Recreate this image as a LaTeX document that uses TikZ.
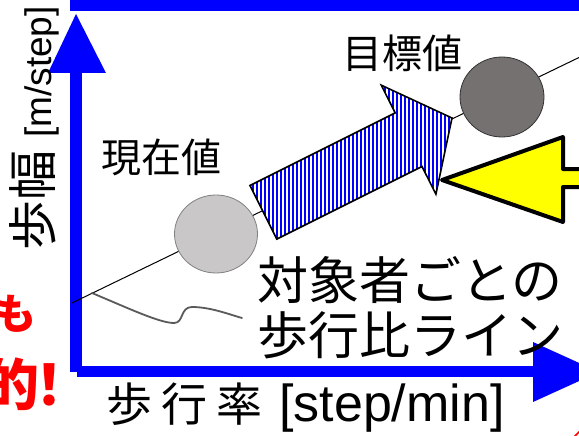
\documentclass[tikz,border=0pt]{standalone}
\usepackage{fontspec}
\setmainfont{Liberation Sans}
\newfontfamily\cjk{Noto Sans CJK JP}
\usetikzlibrary{shapes.geometric}
\definecolor{axisblue}{RGB}{0,0,255}
\definecolor{arrowyellow}{RGB}{255,255,0}
\definecolor{lightdot}{RGB}{201,199,199}
\definecolor{lightdotedge}{RGB}{128,128,128}
\definecolor{darkdot}{RGB}{118,113,113}
\definecolor{darkdotedge}{RGB}{50,50,50}
\definecolor{curvegrey}{RGB}{90,90,90}
\definecolor{alertred}{RGB}{255,0,0}
\tikzset{
  axisfill/.style={fill=axisblue},
  dotnode/.style={ellipse, inner sep=0pt, line width=0.8pt},
  jplabel/.style={inner sep=0pt, anchor=base west},
  redlabel/.style={inner sep=0pt, anchor=base east, text=alertred},
}
\begin{document}
\begin{tikzpicture}[x=1pt,y=-1pt]
\useasboundingbox (0,0) rectangle (579,436);
\clip (0,0) rectangle (579,436);
\fill[white] (0,0) rectangle (579,436);

% top blue bar
\fill[axisfill] (70,0) rectangle (579,11);
% vertical axis arrow
\fill[axisfill] (70,73) rectangle (82,372);
\fill[axisfill] (48,73) -- (76,14) -- (106,73) -- cycle;
% horizontal axis arrow
\fill[axisfill] (77,366) rectangle (533,377);
\fill[axisfill] (533,342) -- (599,372) -- (533,402) -- cycle;

% ratio line
\coordinate (l0) at (72,303);
\coordinate (l1) at (580,57);
\draw[black, line width=1pt] (l0) -- (l1);

% leader curve
\coordinate (c0) at (92,293);
\coordinate (c1) at (242,318);
\draw[curvegrey, line width=1.8pt, line cap=round]
  (c0) .. controls (130,309) and (160,323) .. (174,323)
       .. controls (184,323) and (180,307) .. (192,307)
       .. controls (210,307) and (228,314) .. (c1);

% dots
\node[dotnode, draw=lightdotedge, fill=lightdot, minimum width=83pt, minimum height=78pt] (cur) at (216,234) {};
\node[dotnode, draw=darkdotedge, fill=darkdot, minimum width=84pt, minimum height=80pt] (tgt) at (502,97) {};

% striped arrow
\coordinate (a1) at (250,185.5);
\coordinate (a2) at (395.2,112.9);
\coordinate (a3) at (381.3,85.2);
\coordinate (a4) at (452,118);
\coordinate (a5) at (435.9,194.2);
\coordinate (a6) at (422,166.5);
\coordinate (a7) at (276.8,239.1);
\begin{scope}
  \clip (a1) -- (a2) -- (a3) -- (a4) -- (a5) -- (a6) -- (a7) -- cycle;
  \fill[white] (240,80) rectangle (460,245);
  \foreach \x in {248,252,...,456} \fill[axisblue] (\x,80) rectangle (\x+2,245);
\end{scope}
\draw[black, line width=1.6pt, line join=miter] (a1) -- (a2) -- (a3) -- (a4) -- (a5) -- (a6) -- (a7) -- cycle;

% yellow arrow
\draw[black, fill=arrowyellow, line width=4pt, line join=round]
  (442,180) -- (563,137) -- (563,169) -- (600,169) -- (600,187) -- (563,187) -- (563,222) -- cycle;

% labels
\node[jplabel, font=\cjk\fontsize{40}{48}\selectfont] (curlbl) at (101,172) {現在値};
\node[jplabel, font=\cjk\fontsize{40}{48}\selectfont] (tgtlbl) at (342,69) {目標値};
\node[jplabel, font=\cjk\fontsize{51}{55}\selectfont] (t1) at (257,299) {対象者ごとの};
\node[jplabel, font=\cjk\fontsize{51}{55}\selectfont] (t2) at (257,354) {歩行比ライン};

\node[jplabel, rotate=90] (ylbl) at (51,251)
  {{\cjk\fontsize{50}{60}\selectfont 歩幅}\hspace{13pt}{\fontsize{37}{44}\selectfont[m/step]}};
\node[jplabel] (xlbl) at (106,421)
  {{\cjk\fontsize{46}{55}\selectfont 歩\hspace{9pt}行\hspace{9pt}率}\hspace{17pt}{\fontsize{52}{62}\selectfont[step/min]}};

% red text cut at the left edge
\node[redlabel, font=\cjk\bfseries\fontsize{42}{48}\selectfont] (r1) at (37,329) {も};
\node[redlabel, font=\cjk\bfseries\fontsize{56}{60}\selectfont] (r2) at (78,405) {的\kern-18pt！};
\draw[alertred, line width=1.5pt] (574,437) -- (580,431);
\end{tikzpicture}
\end{document}
